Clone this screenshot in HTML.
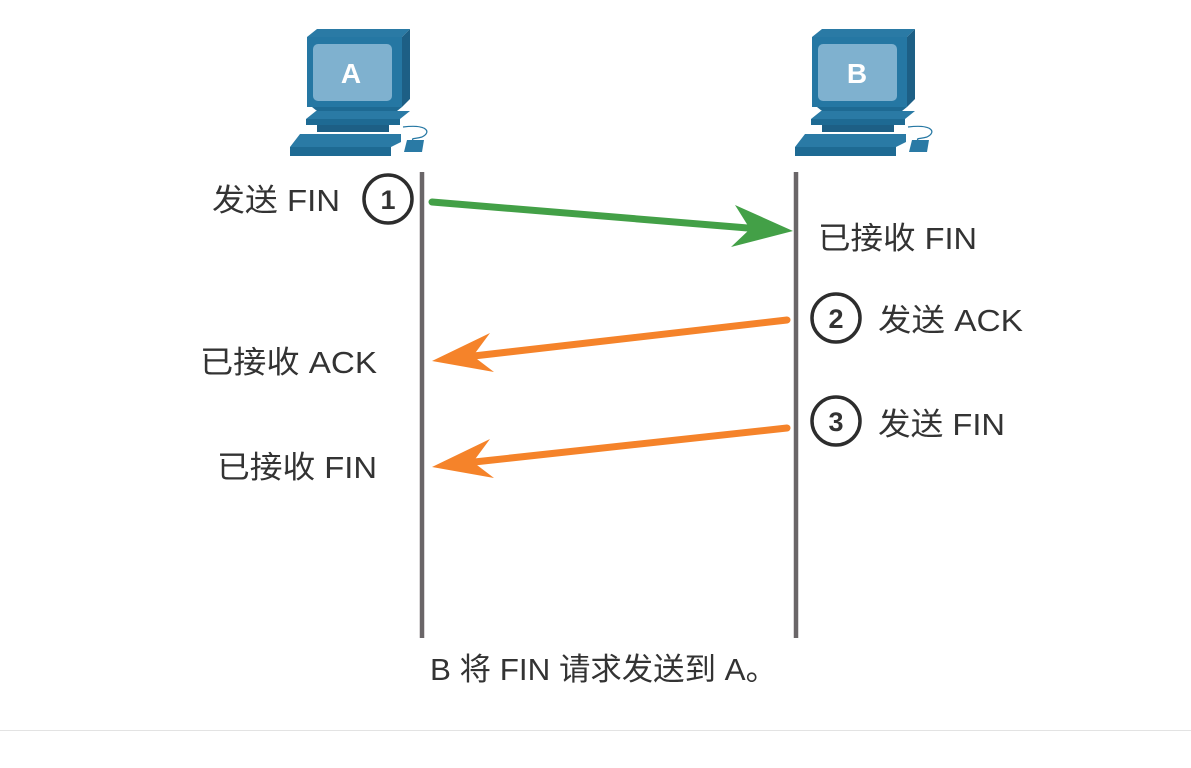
<!DOCTYPE html>
<html><head><meta charset="utf-8"><style>
html,body{margin:0;padding:0;background:#fff;width:1191px;height:768px;overflow:hidden}
text{font-family:"Liberation Sans","Noto Sans CJK SC",sans-serif;fill:#333}
</style></head><body>
<svg width="1191" height="768" viewBox="0 0 1191 768">
<defs>
<g id="pc">
  <polygon points="0,10 10,2 103,2 95,10" fill="#2a7aa5"/>
  <polygon points="95,10 103,2 103,72 95,80" fill="#1d5f85"/>
  <rect x="0" y="10" width="95" height="70" fill="#2577a3"/>
  <rect x="6" y="17" width="79" height="57" rx="5" fill="#7fb1cf"/>
  <polygon points="5,80 95,80 85,88 15,88" fill="#1e6a93"/>
  <polygon points="-1,92 9,84 103,84 93,92" fill="#2a7aa5"/>
  <rect x="-1" y="92" width="94" height="6" fill="#1e6a93"/>
  <rect x="10" y="98" width="72" height="7" fill="#1d5f85"/>
  <polygon points="-17,120 -7,107 94,107 94,115 84,120" fill="#2a7aa5"/>
  <rect x="-17" y="120" width="101" height="9" fill="#1e6a93"/>
  <polygon points="97,125 100,113 117,113 115,125" fill="#2a7aa5"/>
  <path d="M96,100 C120,97 125,105 115,110 C108,112 104,111 106,113" fill="none" stroke="#2577a3" stroke-width="1.2"/>
</g>
</defs>
<use href="#pc" x="307" y="27"/>
<use href="#pc" x="812" y="27"/>
<text x="351" y="83" font-size="28" font-weight="bold" text-anchor="middle" style="fill:#fff">A</text>
<text x="857" y="83" font-size="28" font-weight="bold" text-anchor="middle" style="fill:#fff">B</text>

<line x1="422" y1="172" x2="422" y2="638" stroke="#6a6668" stroke-width="4.5"/>
<line x1="796" y1="172" x2="796" y2="638" stroke="#6a6668" stroke-width="4.5"/>

<line x1="432" y1="202" x2="760" y2="229" stroke="#43a047" stroke-width="7" stroke-linecap="round"/>
<polygon points="793,231 735,205 750,229 731,247" fill="#43a047"/>
<line x1="787" y1="320" x2="465" y2="357" stroke="#f5832a" stroke-width="7" stroke-linecap="round"/>
<polygon points="432,361 490,333 473,356 494,372" fill="#f5832a"/>
<line x1="787" y1="428" x2="465" y2="463" stroke="#f5832a" stroke-width="7" stroke-linecap="round"/>
<polygon points="432,467 490,439 473,462 494,478" fill="#f5832a"/>

<circle cx="388" cy="199" r="24" fill="#fff" stroke="#2d2d2d" stroke-width="3.5"/>
<text x="388" y="209" font-size="27" font-weight="bold" text-anchor="middle">1</text>
<circle cx="836" cy="318" r="24" fill="#fff" stroke="#2d2d2d" stroke-width="3.5"/>
<text x="836" y="328" font-size="27" font-weight="bold" text-anchor="middle">2</text>
<circle cx="836" cy="421" r="24" fill="#fff" stroke="#2d2d2d" stroke-width="3.5"/>
<text x="836" y="431" font-size="27" font-weight="bold" text-anchor="middle">3</text>

<text x="212" y="211" font-size="31" textLength="128" lengthAdjust="spacingAndGlyphs">发送 FIN</text>
<text x="818" y="249" font-size="31" textLength="159" lengthAdjust="spacingAndGlyphs">已接收 FIN</text>
<text x="878" y="331" font-size="31" textLength="145" lengthAdjust="spacingAndGlyphs">发送 ACK</text>
<text x="200" y="373" font-size="31" textLength="177" lengthAdjust="spacingAndGlyphs">已接收 ACK</text>
<text x="878" y="435" font-size="31" textLength="127" lengthAdjust="spacingAndGlyphs">发送 FIN</text>
<text x="217" y="478" font-size="31" textLength="160" lengthAdjust="spacingAndGlyphs">已接收 FIN</text>
<text x="430" y="680" font-size="31" textLength="347" lengthAdjust="spacingAndGlyphs">B 将 FIN 请求发送到 A。</text>
<line x1="0" y1="730.5" x2="1191" y2="730.5" stroke="#e3e3e3" stroke-width="1"/>
</svg>
</body></html>
